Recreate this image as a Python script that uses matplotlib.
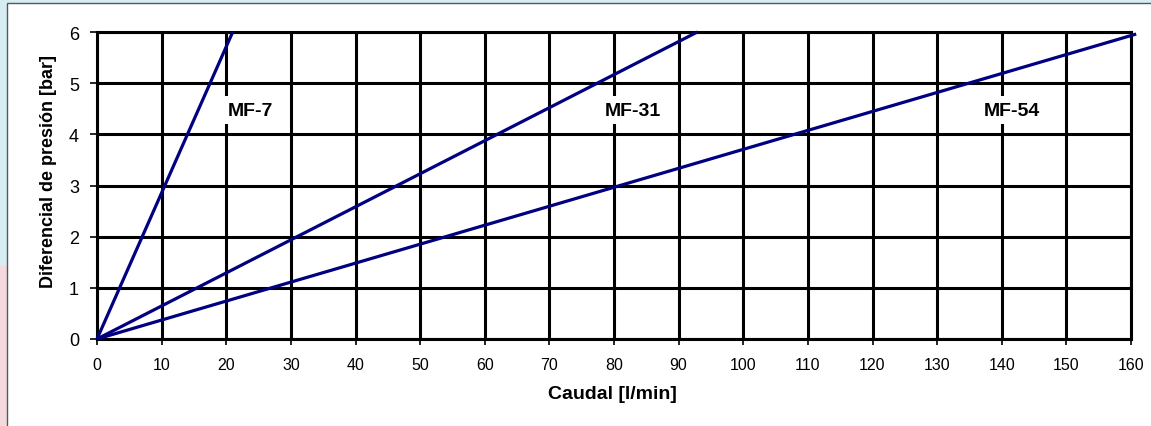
import matplotlib
matplotlib.use("Agg")
import matplotlib.pyplot as plt
from matplotlib.patches import Rectangle

plt.rcParams['font.family'] = ['Liberation Sans', 'DejaVu Sans']

# Data
series_names = ["MF-7", "MF-31", "MF-54"]
caudal_mf7 = [0, 21.0]
presion_mf7 = [0, 6.0]
caudal_mf31 = [0, 92.9]
presion_mf31 = [0, 6.0]
caudal_mf54 = [0, 160.8]
presion_mf54 = [0, 5.96]
label_x = [23.7, 82.9, 141.6]
label_y = [4.47, 4.47, 4.47]
x_ticks = list(range(0, 161, 10))
y_ticks = list(range(0, 7))

W, H = 1151, 427
fig = plt.figure(figsize=(W / 100, H / 100), dpi=100)
fig.patch.set_facecolor('#d7edf1')

# pinkish tint on the lower-left strip
fig.patches.append(Rectangle((0, 0), 7 / W, 160 / H, transform=fig.transFigure,
                             facecolor='#f4dadd', edgecolor='none', zorder=-2))
# white panel with border
fig.patches.append(Rectangle((7 / W, -0.05), 1.2, (H - 3.5) / H + 0.05,
                             transform=fig.transFigure, facecolor='white',
                             edgecolor='#505860', linewidth=1.0, zorder=-1))

ax = fig.add_axes([97 / W, (H - 340) / H, (1131 - 97) / W, (340 - 33) / H])
ax.set_zorder(2)
ax.set_facecolor('white')
ax.set_xlim(0, 160)
ax.set_ylim(0, 6)
ax.set_xticks(x_ticks)
ax.set_yticks(y_ticks)
ax.grid(True, color='black', linewidth=2.2)
ax.set_axisbelow(True)
for s in ax.spines.values():
    s.set_linewidth(2.2)
    s.set_color('black')
ax.tick_params(axis='x', labelsize=11.5, length=4, width=1.2, pad=9)
ax.tick_params(axis='y', labelsize=13, length=5, width=1.2, pad=8)

navy = '#000080'
for xs, ys in [(caudal_mf7, presion_mf7), (caudal_mf31, presion_mf31), (caudal_mf54, presion_mf54)]:
    ax.plot(xs, ys, color=navy, linewidth=2.3, clip_on=False, zorder=3,
            solid_capstyle='butt')

for name, lx, ly in zip(series_names, label_x, label_y):
    ax.text(lx, ly, name, ha='center', va='center', fontsize=14, fontweight='bold',
            zorder=4, bbox=dict(facecolor='white', edgecolor='none', pad=4))

fig.text(612 / W, 1 - 395 / H, 'Caudal [l/min]', ha='center', va='center',
         fontsize=14, fontweight='bold')
fig.text(49 / W, 1 - 172 / H, 'Diferencial de presión [bar]', ha='center', va='center',
         fontsize=13, fontweight='bold', rotation=90)

fig.savefig('out.png', dpi=100, facecolor=fig.get_facecolor())
